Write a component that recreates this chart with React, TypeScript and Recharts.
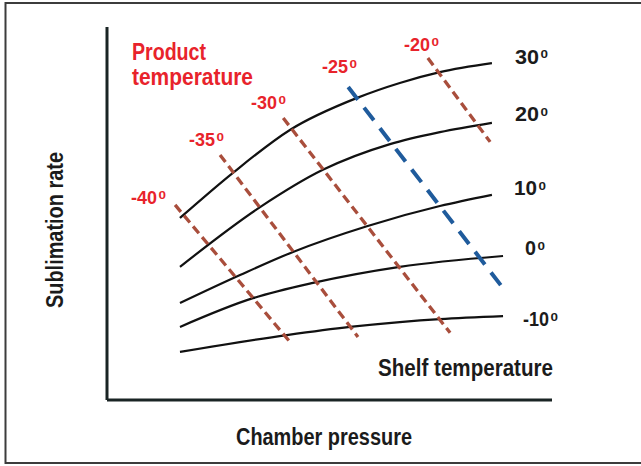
import React from 'react';
import { LineChart, Line, XAxis, YAxis, Customized } from 'recharts';

// Shelf temperature curves: chamber pressure (P, 0-100 arb.) vs sublimation rate (R, 0-100 arb.)
const shelf30P = [16.4, 28.3, 41.1, 56.2, 65.8, 74.8, 86.5];
const shelf30R = [48.8, 60.9, 72.4, 81.0, 85.0, 87.9, 90.3];
const shelf20P = [16.4, 34.4, 48.5, 63.6, 74.8, 86.5];
const shelf20R = [35.7, 51.7, 61.7, 68.6, 71.8, 74.3];
const shelf10P = [16.4, 29.9, 41.8, 58.4, 74.8, 86.5];
const shelf10R = [26.0, 33.5, 39.7, 46.6, 52.0, 55.0];
const shelf0P = [16.4, 32.8, 46.3, 65.8, 89.0];
const shelf0R = [19.6, 27.3, 31.4, 35.7, 38.6];
const shelfM10P = [16.4, 40.4, 54.6, 65.8, 74.8, 89.0];
const shelfM10R = [12.9, 17.4, 19.6, 20.9, 21.7, 22.5];

// Product temperature isotherms (start, end)
const prodM40P = [15.3, 41.3];
const prodM40R = [52.3, 15.3];
const prodM35P = [25.4, 56.4];
const prodM35R = [65.7, 16.9];
const prodM30P = [39.6, 77.1];
const prodM30R = [75.6, 18.0];
const prodM25P = [54.2, 89.0];
const prodM25R = [83.9, 30.0];
const prodM20P = [72.1, 86.1];
const prodM20R = [91.7, 69.2];

const shelfLabels = ['30', '20', '10', '0', '-10'];
const productLabels = ['-40', '-35', '-30', '-25', '-20'];

const zip = (p: number[], r: number[]) => p.map((x, i) => ({ x, y: r[i] }));

const shelfSeries = [
  zip(shelf30P, shelf30R),
  zip(shelf20P, shelf20R),
  zip(shelf10P, shelf10R),
  zip(shelf0P, shelf0R),
  zip(shelfM10P, shelfM10R),
];
const productSeries = [
  zip(prodM40P, prodM40R),
  zip(prodM35P, prodM35R),
  zip(prodM30P, prodM30R),
  zip(prodM25P, prodM25R),
  zip(prodM20P, prodM20R),
];

const FONT = "'Liberation Sans Narrow','Arial Narrow','Liberation Sans',Arial,sans-serif";
const RED = '#e8232b';
const INK = '#1b1b1b';

const redPos = [
  { x: 131, y: 204 },
  { x: 189, y: 146 },
  { x: 251, y: 109 },
  { x: 322, y: 73 },
  { x: 404, y: 51 },
];
const blackPos = [
  { x: 515, y: 63.5, w: 24 },
  { x: 515, y: 121, w: 24 },
  { x: 514, y: 195, w: 23 },
  { x: 525, y: 255, w: 11 },
  { x: 523, y: 326, w: 26 },
];

function Deg({ x, y, text, w, size, color }: any) {
  return (
    <g>
      <text
        x={x}
        y={y}
        fontFamily={FONT}
        fontWeight={700}
        fontSize={size}
        fill={color}
        textLength={w}
        lengthAdjust="spacingAndGlyphs"
      >
        {text}
      </text>
      <text
        x={x + w + 1.5}
        y={y - 5.5}
        fontFamily={FONT}
        fontWeight={700}
        fontSize={11.5}
        fill={color}
        textLength={7.5}
        lengthAdjust="spacingAndGlyphs"
      >
        0
      </text>
    </g>
  );
}

function Big({ x, y, text, w, color, rotate }: any) {
  return (
    <text
      x={x}
      y={y}
      fontFamily={FONT}
      fontWeight={700}
      fontSize={23.5}
      fill={color}
      textLength={w}
      lengthAdjust="spacingAndGlyphs"
      transform={rotate ? `rotate(-90 ${x} ${y})` : undefined}
    >
      {text}
    </text>
  );
}

function Overlay() {
  return (
    <g>
      <rect x={5.5} y={3} width={700} height={460} fill="none" stroke="#3c3c3c" strokeWidth={2} />
      <Big x={132} y={60} text="Product" w={74} color={RED} />
      <Big x={132} y={85} text="temperature" w={121} color={RED} />
      <Big x={378} y={376} text="Shelf temperature" w={175} color={INK} />
      <Big x={236} y={445} text="Chamber pressure" w={176} color={INK} />
      <Big x={63} y={308} text="Sublimation rate" w={156} color={INK} rotate />
      {productLabels.map((t, i) => (
        <Deg key={t} x={redPos[i].x} y={redPos[i].y} text={t} w={26} size={18} color={RED} />
      ))}
      {shelfLabels.map((t, i) => (
        <Deg key={t} x={blackPos[i].x} y={blackPos[i].y} text={t} w={blackPos[i].w} size={20} color={INK} />
      ))}
    </g>
  );
}

export default function App() {
  return (
    <div style={{ position: 'absolute', left: 0, top: 0, width: 641, height: 466, background: '#fff' }}>
      <LineChart width={641} height={466} margin={{ top: 27, right: 89, bottom: 36, left: 77 }}>
        <XAxis
          dataKey="x"
          type="number"
          domain={[0, 100]}
          allowDataOverflow
          tick={false}
          tickLine={false}
          height={30}
          axisLine={{ stroke: '#1a2424', strokeWidth: 3 }}
        />
        <YAxis
          type="number"
          domain={[0, 100]}
          allowDataOverflow
          tick={false}
          tickLine={false}
          width={30}
          axisLine={{ stroke: '#1a2424', strokeWidth: 3 }}
        />
        {shelfSeries.map((d, i) => (
          <Line
            key={'s' + i}
            data={d}
            dataKey="y"
            type="monotone"
            stroke="#111111"
            strokeWidth={2.2}
            dot={false}
            activeDot={false}
            isAnimationActive={false}
          />
        ))}
        {productSeries.map((d, i) => (
          <Line
            key={'p' + i}
            data={d}
            dataKey="y"
            type="linear"
            stroke={i === 3 ? '#1f5b9c' : '#a94e3c'}
            strokeWidth={i === 3 ? 4 : 3.3}
            strokeDasharray={i === 3 ? '16 10' : '9 5'}
            dot={false}
            activeDot={false}
            isAnimationActive={false}
          />
        ))}
        <Customized component={<Overlay />} />
      </LineChart>
    </div>
  );
}
